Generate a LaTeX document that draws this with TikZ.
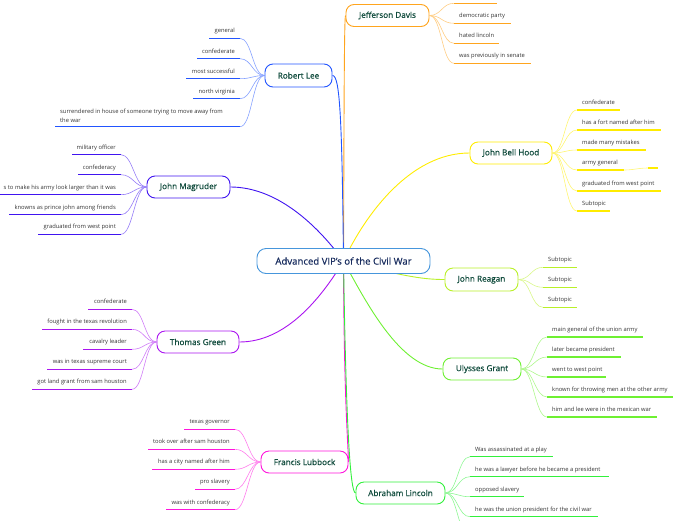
\documentclass[tikz,border=0pt]{standalone}
\usepackage{fontspec}
\setmainfont{Open Sans}
\newfontfamily\semib{Open Sans}[FakeBold=0.5]
\usetikzlibrary{backgrounds}
\definecolor{cRL}{RGB}{34,85,255}
\definecolor{cJM}{RGB}{64,20,240}
\definecolor{cTG}{RGB}{170,20,240}
\definecolor{cFL}{RGB}{255,20,220}
\definecolor{cJD}{RGB}{255,165,30}
\definecolor{cJBH}{RGB}{255,236,0}
\definecolor{cJR}{RGB}{185,240,40}
\definecolor{cUG}{RGB}{110,240,50}
\definecolor{cAL}{RGB}{50,240,60}
\definecolor{cCT}{RGB}{70,150,220}
\definecolor{mtext}{RGB}{16,75,60}
\definecolor{ctext}{RGB}{25,45,95}
\definecolor{stext}{RGB}{51,51,51}
\colorlet{br}{black}
\tikzset{
  topic/.style={draw=#1, line width=0.9pt, rounded corners=8pt, fill=white,
    font=\semib\fontsize{8.2}{10}\selectfont, text=mtext, inner sep=0pt, minimum height=22pt},
  link/.style={draw=#1, line width=0.9pt},
  subtext/.style={font=\fontsize{5.8}{7}\selectfont, text=stext, inner sep=0pt},
  uline/.style={draw=br, line width=1.3pt},
  branch/.style={draw=br!55, line width=0.6pt},
}
\newcommand{\subr}[6]{%
  \coordinate (#1s) at (#3,#5);
  \coordinate (#1e) at (#4,#5);
  \draw[uline] (#1s) -- (#1e);
  \draw[branch] (#2) .. controls +(12,0) and +(-12,0) .. (#1s);
  \node[subtext, anchor=base west] (#1) at ([shift={(5,-5.5)}]#1s) {#6};
}
\newcommand{\subl}[6]{%
  \coordinate (#1s) at (#3,#5);
  \coordinate (#1e) at (#4,#5);
  \draw[uline] (#1s) -- (#1e);
  \draw[branch] (#2) .. controls +(-12,0) and +(12,0) .. (#1e);
  \node[subtext, anchor=base east] (#1) at ([shift={(-5,-5.5)}]#1e) {#6};
}
\begin{document}
\begin{tikzpicture}[x=1pt,y=-1pt]
\useasboundingbox (0,0) rectangle (696,520);
\clip (0,0) rectangle (696,520);

% central and main topics
\node[draw=cCT, line width=0.9pt, rounded corners=9pt, fill=white, inner sep=0pt,
  minimum width=173pt, minimum height=25pt, text=ctext,
  font=\semib\fontsize{9.6}{11}\selectfont] (ctr) at (343.5,261) {Advanced VIP’s of the Civil War};
\node[topic=cJD, minimum width=83pt] (jd) at (387.5,15.5) {Jefferson Davis};
\node[topic=cRL, minimum width=67pt, minimum height=23pt] (rl) at (298.5,75.5) {Robert Lee};
\node[topic=cJM, minimum width=83pt] (jm) at (188.5,187) {John Magruder};
\node[topic=cTG, minimum width=82pt] (tg) at (198,342) {Thomas Green};
\node[topic=cFL, minimum width=87pt] (fl) at (304.5,462) {Francis Lubbock};
\node[topic=cJBH, minimum width=82pt] (jbh) at (511,153) {John Bell Hood};
\node[topic=cJR, minimum width=73pt, minimum height=23pt] (jr) at (481.5,279.5) {John Reagan};
\node[topic=cUG, minimum width=78pt] (ug) at (482,369) {Ulysses Grant};
\node[topic=cAL, minimum width=89pt] (al) at (400.5,493) {Abraham Lincoln};

% main connectors
\begin{pgfonlayer}{background}
\draw[link=cJD] (ctr.center) .. controls (344,150) and (344,15.5) .. (jd.west);
\draw[link=cRL] (rl.east) .. controls (340,75) and (342,120) .. (ctr.center);
\draw[link=cJM] (jm.east) .. controls (275,187) and (315,222) .. (ctr.center);
\draw[link=cTG] (tg.east) .. controls (285,342) and (320,300) .. (ctr.center);
\draw[link=cFL] (ctr.center) .. controls (344,400) and (348,440) .. (fl.east);
\draw[link=cAL] (ctr.center) .. controls (346,420) and (350,493) .. (al.west);
\draw[link=cJBH] (ctr.center) .. controls (365,215) and (410,153) .. (jbh.west);
\draw[link=cJR] (ctr.center) .. controls (400,275) and (420,279.5) .. (jr.west);
\draw[link=cUG] (ctr.center) .. controls (365,300) and (400,369) .. (ug.west);
\end{pgfonlayer}

% Jefferson Davis
\begin{scope}
\colorlet{br}{cJD}
\coordinate (jd0s) at (454,3.3);
\coordinate (jd0e) at (497,3.3);
\draw[uline] (jd0s) -- (jd0e);
\draw[branch] (jd.east) .. controls +(12,0) and +(-12,0) .. (jd0s);
\subr{jd1}{jd.east}{454}{511}{23.3}{democratic party}
\subr{jd2}{jd.east}{454}{499}{43.3}{hated lincoln}
\subr{jd3}{jd.east}{454}{531}{63.3}{was previously in senate}
\end{scope}

% Robert Lee
\begin{scope}
\colorlet{br}{cRL}
\subl{rl1}{rl.west}{209}{240}{38.3}{general}
\subl{rl2}{rl.west}{197}{240}{58.7}{confederate}
\subl{rl3}{rl.west}{186}{240}{78.7}{most successful}
\subl{rl4}{rl.west}{193}{240}{98.7}{north virginia}
\coordinate (rl5s) at (55,126.7);
\coordinate (rl5e) at (240,126.7);
\draw[uline] (rl5s) -- (rl5e);
\draw[branch] (rl.west) .. controls +(-12,0) and +(12,0) .. (rl5e);
\node[subtext, anchor=south west, align=left, font=\fontsize{5.8}{9}\selectfont] (rl5) at (60,122.3)
  {surrendered in house of someone trying to move away from\\the war};
\end{scope}

% John Magruder
\begin{scope}
\colorlet{br}{cJM}
\subl{jm1}{jm.west}{72}{121}{154.7}{military officer}
\subl{jm2}{jm.west}{78}{121}{174.7}{confederacy}
\subl{jm3}{jm.west}{-5}{121}{194.7}{s to make his army look larger than it was}
\subl{jm4}{jm.west}{9}{121}{214.7}{knowns as prince john among friends}
\subl{jm5}{jm.west}{38}{121}{234.3}{graduated from west point}
\end{scope}

% Thomas Green
\begin{scope}
\colorlet{br}{cTG}
\subl{tg1}{tg.west}{88}{132}{309.3}{confederate}
\subl{tg2}{tg.west}{42}{132}{329.3}{fought in the texas revolution}
\subl{tg3}{tg.west}{83}{132}{349.3}{cavalry leader}
\subl{tg4}{tg.west}{47}{132}{369.3}{was in texas supreme court}
\subl{tg5}{tg.west}{32}{132}{389.3}{got land grant from sam houston}
\end{scope}

% Francis Lubbock
\begin{scope}
\colorlet{br}{cFL}
\subl{fl1}{fl.west}{184}{235}{429.3}{texas governor}
\subl{fl2}{fl.west}{148}{235}{449.3}{took over after sam houston}
\subl{fl3}{fl.west}{152}{235}{469.3}{has a city named after him}
\subl{fl4}{fl.west}{195}{235}{489.3}{pro slavery}
\subl{fl5}{fl.west}{166}{235}{509.7}{was with confederacy}
\end{scope}

% John Bell Hood
\begin{scope}
\colorlet{br}{cJBH}
\subr{jbh1}{jbh.east}{577}{620}{110}{confederate}
\subr{jbh2}{jbh.east}{577}{661}{130}{has a fort named after him}
\subr{jbh3}{jbh.east}{577}{646}{150}{made many mistakes}
\subr{jbh4}{jbh.east}{577}{624}{170}{army general}
\coordinate (jbh4x) at (648,168);
\coordinate (jbh4y) at (658,168);
\draw[branch] (jbh4e) .. controls +(10,0) and +(-10,0) .. (jbh4x);
\draw[uline] (jbh4x) -- (jbh4y);
\subr{jbh5}{jbh.east}{577}{661}{191}{graduated from west point}
\subr{jbh6}{jbh.east}{577}{610}{211}{Subtopic}
\end{scope}

% John Reagan
\begin{scope}
\colorlet{br}{cJR}
\subr{jr1}{jr.east}{543}{577}{267.3}{Subtopic}
\subr{jr2}{jr.east}{543}{577}{287.3}{Subtopic}
\subr{jr3}{jr.east}{543}{577}{307.3}{Subtopic}
\end{scope}

% Ulysses Grant
\begin{scope}
\colorlet{br}{cUG}
\subr{ug1}{ug.east}{547}{643}{337}{main general of the union army}
\subr{ug2}{ug.east}{547}{621}{357}{later became president}
\subr{ug3}{ug.east}{547}{606}{377}{went to west point}
\subr{ug4}{ug.east}{547}{673}{397}{known for throwing men at the other army}
\subr{ug5}{ug.east}{547}{657}{417}{him and lee were in the mexican war}
\end{scope}

% Abraham Lincoln
\begin{scope}
\colorlet{br}{cAL}
\subr{al1}{al.east}{470}{553}{456.7}{Was assassinated at a play}
\subr{al2}{al.east}{470}{609}{476.7}{he was a lawyer before he became a president}
\subr{al3}{al.east}{470}{524}{496.7}{opposed slavery}
\subr{al4}{al.east}{470}{598}{516.7}{he was the union president for the civil war}
\coordinate (al5s) at (470,536.7);
\draw[branch] (al.east) .. controls +(12,0) and +(-12,0) .. (al5s);
\end{scope}
\end{tikzpicture}
\end{document}
